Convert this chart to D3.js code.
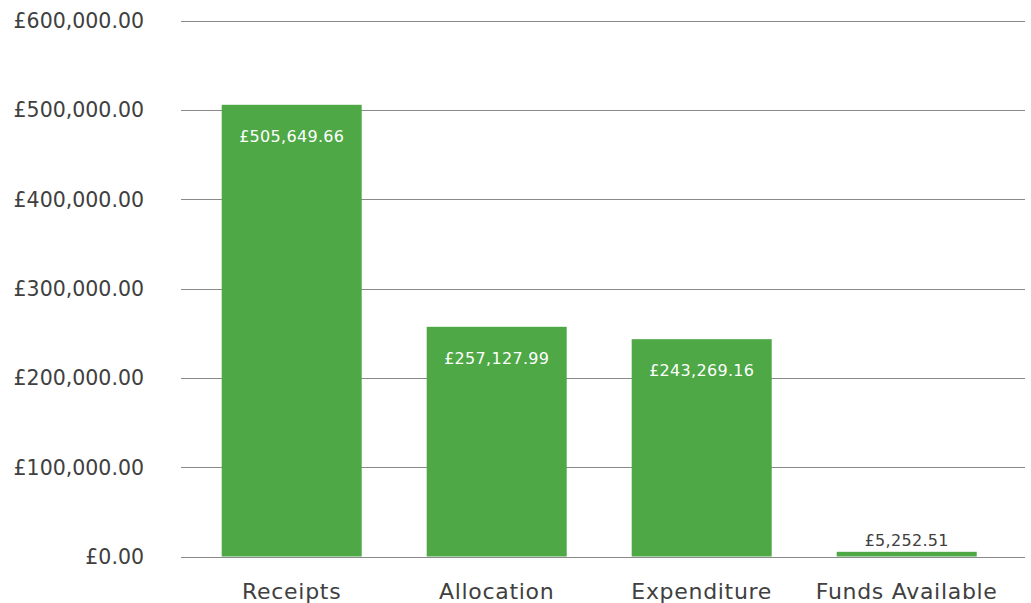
<!DOCTYPE html>
<html><head><meta charset="utf-8">
<script src="https://cdn.jsdelivr.net/npm/d3@7"></script>
<style>html,body{margin:0;padding:0;background:#fff;}svg{display:block;}</style>
</head><body>
<svg id="c" width="1031" height="603"></svg>
<script>
const categories = ["Receipts", "Allocation", "Expenditure", "Funds Available"];
const values = [505649.66, 257127.99, 243269.16, 5252.51];
const tickValues = [0, 100000, 200000, 300000, 400000, 500000, 600000];

const svg = d3.select("#c");
const font = "'DejaVu Sans', sans-serif";
const fmt = v => "£" + d3.format(",.2f")(v);

const y = d3.scaleLinear().domain([0, 600000]).range([556.5, 20.5]);
const x = d3.scaleBand().domain(categories).range([189.2, 1009.2]).paddingInner(0.317).paddingOuter(0.1585);

// gridlines
svg.append("g").selectAll("line").data(tickValues).join("line")
  .attr("x1", 181).attr("x2", 1025)
  .attr("y1", d => Math.round(y(d)) + 0.5).attr("y2", d => Math.round(y(d)) + 0.5)
  .attr("stroke", "#898989").attr("stroke-width", 1);

// y labels
svg.append("g").selectAll("text").data(tickValues).join("text")
  .attr("x", 144).attr("y", d => y(d)).attr("dy", "0.36em")
  .attr("text-anchor", "end").attr("font-family", font).attr("font-size", 20.5)
  .attr("fill", "#404040").text(d => fmt(d));

// bars
svg.append("g").selectAll("rect").data(values).join("rect")
  .attr("x", (d, i) => x(categories[i])).attr("width", x.bandwidth())
  .attr("y", d => y(d)).attr("height", d => y(0) - y(d))
  .attr("fill", "#4DA845");

// data labels
svg.append("g").selectAll("text").data(values).join("text")
  .attr("x", (d, i) => x(categories[i]) + x.bandwidth() / 2)
  .attr("y", d => (y(0) - y(d) > 50) ? y(d) + 37 : y(d) - 6)
  .attr("text-anchor", "middle").attr("font-family", font).attr("font-size", 16)
  .attr("letter-spacing", 0.3)
  .attr("fill", d => (y(0) - y(d) > 50) ? "#ffffff" : "#404040")
  .text(d => fmt(d));

// category labels
svg.append("g").selectAll("text").data(categories).join("text")
  .attr("x", d => x(d) + x.bandwidth() / 2).attr("y", 599)
  .attr("text-anchor", "middle").attr("font-family", font).attr("font-size", 22)
  .attr("letter-spacing", 0.7)
  .attr("fill", "#404040").text(d => d);
</script>
</body></html>
